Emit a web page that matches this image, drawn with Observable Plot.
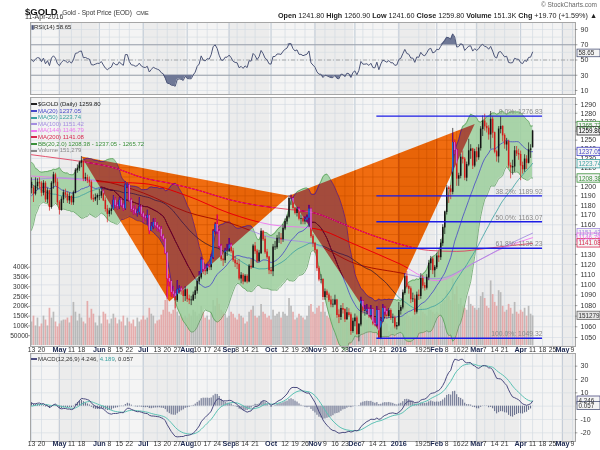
<!DOCTYPE html>
<html><head><meta charset="utf-8">
<script src="https://cdn.jsdelivr.net/npm/d3@7"></script>
<script src="https://cdn.jsdelivr.net/npm/@observablehq/plot@0.6"></script>
<style>
html,body{margin:0;padding:0;background:#fff;}
#root{position:relative;width:600px;height:450px;overflow:hidden;font-family:"Liberation Sans",Arial,sans-serif;color:#222;}
#root svg{position:absolute;left:0;}
.t{position:absolute;white-space:nowrap;line-height:1;}
.sw{display:inline-block;width:6px;height:2px;vertical-align:middle;margin-right:1px;}
</style></head><body><div id="root"></div><script>
// ---------- DATA ----------
const warmupCloses = [1260,1279,1275,1260,1263,1263,1234,1240,1234,1220,1222,1227,1208,1211,1209,1203,1197,1200,1211,1207,1213,1208,1203,1199,1198,1165,1167,1161,1150,1152,1152,1154,1148,1169,1168,1183,1190,1192,1196,1204,1199,1185,1184,1200,1201,1219,1210,1203,1193,1207];
const opens = [1204,1198,1192,1200,1204,1203,1193,1203,1186,1195,1178,1203,1212,1204,
1183,1175,1186,1193,1191,1185,1189,1183,1193,1217,1219,1225,1227,1208,1209,1206,1204,1187,1186,1188,
1190,1190,1194,1185,1176,1171,1174,1176,1185,1180,1179,1185,1180,1177,1201,1201,1185,1176,1175,1172,1173,1178,
1171,1168,1167,1169,1154,1158,1162,1159,1157,1155,1148,1145,1131,1106,1103,1093,1091,1085,1095,1096,1094,1089,
1095,1086,1085,1085,1090,1094,1103,1107,1124,1115,1113,1118,1117,1127,1153,1160,1153,1138,1125,1124,1133,
1133,1139,1133,1124,1121,1120,1106,1109,1103,1108,1103,1118,1117,1138,1133,1123,1131,1153,1145,1132,1127,
1114,1113,1137,1137,1146,1146,1145,1156,1163,1168,1187,1187,1177,1172,1176,1166,1166,1163,1165,1167,1176,1148,
1141,1134,1116,1105,1105,1088,1093,1090,1085,1081,1081,1085,1071,1069,1077,1076,1067,1073,1071,1056,
1065,1068,1053,1062,1084,1075,1075,1076,1071,1076,1063,1062,1075,1049,1065,1077,1074,1070,1075,1068,1068,1060,
1061,1075,1078,1092,1108,1098,1096,1086,1086,1074,1090,1089,1106,1099,1097,1107,1121,1125,1114,
1117,1128,1127,1141,1157,1173,1198,1197,1194,1247,1239,1208,1211,1231,1229,1209,1223,1238,1240,1222,
1237,1231,1241,1262,1271,1265,1263,1256,1273,1258,1237,1232,1262,1265,1255,1245,1248,1222,1220,1221,1238,1235,
1234,1222,1218,1229,1225,1239,1241.8];
const highs = [1209,1201,1209,1208,1209,1205,1206,1205,1198,1196,1205,1215,1214,1208,
1185,1189,1196,1197,1194,1193,1190,1195,1219,1223,1227,1232,1228,1214,1212,1210,1206,1191,1192,1192,
1197,1198,1196,1188,1180,1177,1180,1190,1188,1183,1188,1187,1182,1205,1204,1203,1187,1179,1180,1176,1188,1180,
1173,1170,1175,1170,1162,1166,1166,1162,1159,1158,1150,1146,1132,1110,1104,1098,1094,1104,1099,1098,1096,1098,
1096,1090,1089,1093,1098,1106,1113,1127,1125,1118,1120,1120,1130,1155,1162,1170,1155,1140,1130,1136,1140,
1146,1141,1136,1128,1124,1125,1112,1111,1110,1110,1120,1125,1140,1142,1135,1134,1156,1154,1148,1135,1128,
1117,1140,1143,1149,1152,1151,1160,1166,1170,1190,1191,1188,1178,1178,1178,1170,1168,1168,1170,1180,1177,1150,
1142,1135,1118,1110,1106,1096,1095,1092,1089,1086,1090,1086,1076,1080,1082,1077,1078,1077,1073,1068,
1072,1070,1063,1088,1085,1080,1081,1078,1080,1077,1068,1079,1076,1068,1081,1079,1076,1077,1077,1072,1070,1064,
1083,1080,1095,1111,1113,1100,1098,1092,1090,1093,1095,1111,1109,1102,1110,1124,1128,1127,1119,
1131,1132,1145,1160,1174,1201,1200,1201,1263,1250,1240,1214,1234,1238,1231,1226,1251,1245,1241,1240,
1242,1245,1265,1277,1279,1269,1266,1282,1276,1259,1239,1265,1276,1266,1257,1252,1250,1225,1228,1243,1243,1240,
1238,1226,1234,1233,1247,1245,1260.9];
const lows = [1192,1183,1190,1196,1197,1189,1190,1183,1182,1174,1176,1197,1200,1180,
1170,1174,1182,1187,1182,1181,1180,1180,1192,1214,1216,1220,1205,1205,1203,1200,1185,1183,1184,1180,
1185,1187,1184,1173,1162,1168,1170,1175,1177,1175,1176,1178,1174,1175,1198,1183,1173,1170,1170,1168,1170,1168,
1162,1164,1160,1150,1153,1155,1156,1153,1152,1145,1142,1130,1086,1098,1088,1087,1077,1083,1091,1090,1083,1084,
1083,1081,1080,1084,1086,1091,1100,1105,1110,1109,1110,1114,1114,1125,1150,1150,1136,1123,1118,1121,1128,
1132,1131,1122,1117,1115,1104,1101,1100,1102,1101,1102,1115,1116,1130,1121,1122,1130,1143,1130,1125,1110,
1110,1108,1134,1135,1141,1140,1142,1154,1160,1166,1180,1175,1170,1168,1164,1160,1160,1160,1162,1157,1146,1137,
1131,1113,1103,1101,1085,1085,1087,1083,1078,1078,1080,1068,1063,1066,1072,1064,1066,1069,1052,1054,
1060,1052,1046,1060,1072,1070,1071,1068,1069,1061,1060,1060,1049,1048,1064,1071,1067,1068,1066,1063,1058,1057,
1060,1071,1076,1090,1096,1091,1082,1083,1071,1072,1085,1086,1096,1094,1095,1104,1114,1110,1107,
1115,1122,1124,1138,1150,1170,1182,1186,1191,1234,1200,1200,1208,1224,1206,1205,1221,1229,1218,1220,
1226,1228,1238,1254,1260,1258,1250,1240,1252,1235,1226,1225,1257,1248,1240,1238,1219,1208,1212,1215,1232,1228,
1206,1213,1215,1218,1224,1230,1241.6];
const closes = [1198,1192,1200,1204,1203,1193,1203,1186,1195,1178,1203,1212,1204,1183,
1175,1186,1193,1191,1185,1189,1183,1193,1217,1219,1225,1227,1208,1209,1206,1204,1187,1186,1188,1190,
1190,1194,1185,1176,1171,1174,1176,1185,1180,1179,1185,1180,1177,1201,1201,1185,1176,1175,1172,1173,1178,1171,
1168,1167,1169,1154,1158,1162,1159,1157,1155,1148,1145,1131,1106,1103,1093,1091,1085,1095,1096,1094,1089,1095,
1086,1085,1085,1090,1094,1103,1107,1124,1115,1113,1118,1117,1127,1153,1160,1153,1138,1125,1124,1133,1133,
1139,1133,1124,1121,1120,1106,1109,1103,1108,1103,1118,1117,1138,1133,1123,1131,1153,1145,1132,1127,1114,
1113,1137,1137,1146,1146,1145,1156,1163,1168,1187,1187,1177,1172,1176,1166,1166,1163,1165,1167,1176,1148,1141,
1134,1116,1105,1105,1088,1093,1090,1085,1081,1081,1085,1071,1069,1077,1076,1067,1073,1071,1056,1065,
1068,1053,1062,1084,1075,1075,1076,1071,1076,1063,1062,1075,1049,1065,1077,1074,1070,1075,1068,1068,1060,1061,
1075,1078,1092,1108,1098,1096,1086,1086,1074,1090,1089,1106,1099,1097,1107,1121,1125,1114,1117,
1128,1127,1141,1157,1173,1198,1197,1194,1247,1239,1208,1211,1231,1229,1209,1223,1238,1240,1222,1237,
1231,1241,1262,1271,1265,1263,1256,1273,1258,1237,1232,1262,1265,1255,1245,1248,1222,1220,1221,1238,1235,1234,
1222,1218,1229,1225,1239,1240,1259.8];
// volume in thousands
const volumes = [120,150,100,140,95,110,150,130,100,190,140,170,120,95,
110,125,130,130,140,115,150,220,170,125,160,140,120,110,225,140,185,160,115,100,
150,110,170,160,130,110,135,160,140,110,130,120,150,100,140,120,110,130,95,140,120,130,
150,130,140,190,160,150,110,125,130,155,180,230,300,170,160,180,220,170,150,160,140,150,
140,160,150,180,170,150,160,200,170,140,150,130,170,230,200,240,210,180,170,160,140,
150,170,160,140,130,160,150,140,110,120,170,180,200,150,140,150,210,170,160,140,150,
130,180,150,160,170,140,170,160,150,240,200,170,130,140,160,150,140,130,150,200,210,170,
160,190,200,170,220,170,150,140,160,130,140,180,190,160,150,140,130,120,170,140,
140,180,200,230,160,140,130,150,140,160,130,200,230,170,150,120,110,70,90,100,120,90,
170,150,190,220,180,150,140,150,170,180,150,200,170,160,150,190,180,170,160,
170,160,210,240,230,280,250,230,340,260,300,210,240,200,190,180,250,210,200,190,
180,190,250,270,240,200,190,330,260,220,200,280,270,200,170,180,210,190,160,220,170,160,
180,170,190,150,200,160,151.279];
// long moving averages (date, value)
const ma100Pts = [["2015-04-13",1207],["2015-05-01",1209],["2015-06-01",1206],["2015-07-01",1193],["2015-08-03",1173],["2015-09-01",1162],["2015-10-01",1147],["2015-11-02",1140],["2015-12-01",1121],["2016-01-04",1112],["2016-02-01",1106],["2016-03-01",1123],["2016-03-21",1138],["2016-04-11",1151.42]];
const ma144Pts = [["2015-04-13",1211],["2015-05-01",1209],["2015-06-01",1205],["2015-07-01",1203],["2015-08-03",1190],["2015-09-01",1172],["2015-10-01",1160],["2015-11-02",1156],["2015-12-01",1140],["2016-01-04",1121],["2016-02-01",1104],["2016-03-01",1123],["2016-03-21",1137],["2016-04-11",1146.79]];
const ma200Pts = [["2015-04-13",1234],["2015-05-01",1230],["2015-05-20",1226],["2015-06-10",1220],["2015-07-01",1209],["2015-07-22",1203],["2015-08-12",1195],["2015-09-01",1186],["2015-09-22",1180],["2015-10-13",1176],["2015-11-02",1172],["2015-11-23",1160],["2015-12-14",1149],["2016-01-05",1140],["2016-01-26",1134],["2016-02-16",1133],["2016-03-08",1136],["2016-03-28",1139],["2016-04-11",1141.08]];
// harmonic XABCD pattern annotation (drawn in XOR-like "difference" mode as on the original)
const patternX = ["2015-05-18",1232], patternA = ["2015-07-21",1084], patternB = ["2015-10-14",1190],
      patternC = ["2015-12-17",1056], patternD = ["2016-02-29",1268];
const fibPct = ["0.0%","38.2%","50.0%","61.8%","100.0%"];
const fibPrice = [1276.83,1189.92,1163.07,1136.23,1049.32];
const fibSpan = ["2015-12-16","2016-04-18"];
const holidays = ["2015-05-25","2015-07-03","2015-09-07","2015-11-26","2015-12-25","2016-01-01","2016-01-18","2016-02-15","2016-03-25","2016-05-30"];
const weekTicks = [["2015-04-13","13"],["2015-04-20","20"],["2015-05-11","11"],["2015-05-18","18"],["2015-06-08","8"],["2015-06-15","15"],["2015-06-22","22"],["2015-07-13","13"],["2015-07-20","20"],["2015-07-27","27"],["2015-08-10","10"],["2015-08-17","17"],["2015-08-24","24"],["2015-09-08","8"],["2015-09-14","14"],["2015-09-21","21"],["2015-10-12","12"],["2015-10-19","19"],["2015-10-26","26"],["2015-11-09","9"],["2015-11-16","16"],["2015-11-23","23"],["2015-12-07","7"],["2015-12-14","14"],["2015-12-21","21"],["2016-01-19","19"],["2016-01-25","25"],["2016-02-08","8"],["2016-02-16","16"],["2016-02-22","22"],["2016-03-07","7"],["2016-03-14","14"],["2016-03-21","21"],["2016-04-11","11"],["2016-04-18","18"],["2016-04-25","25"],["2016-05-09","9"]];
const monthTicks = [["2015-05-01","May"],["2015-06-01","Jun"],["2015-07-01","Jul"],["2015-08-03","Aug"],["2015-09-01","Sep"],["2015-10-01","Oct"],["2015-11-02","Nov"],["2015-12-01","Dec"],["2016-01-04","2016"],["2016-02-01","Feb"],["2016-03-01","Mar"],["2016-04-01","Apr"],["2016-05-02","May"]];
const priceTicks = d3.range(1050, 1291, 10);
const rsiTicks = [10,30,50,70,90];
const macdTicks = [-20,-10,10,20,30];
const volTicks = [50,100,150,200,250,300,350,400];
const volTickText = ["50000","100K","150K","200K","250K","300K","350K","400K"];
const priceTags = [[1265.72,"#3a8f3a"],[1259.80,"#222"],[1237.05,"#4646c8"],[1223.74,"#3aa0a0"],[1208.38,"#3a8f3a"],[1151.42,"#a58ee0"],[1146.79,"#e866e8"],[1141.08,"#d8284e"]];
const legendRows = [["$GOLD (Daily) 1259.80","#222","#222"],["MA(20) 1237.05","#4646c8","#4646c8"],["MA(50) 1223.74","#3aa0a0","#3aa0a0"],["MA(100) 1151.42","#a58ee0","#a58ee0"],["MA(144) 1146.79","#ee77ee","#ee77ee"],["MA(200) 1141.08","#d8284e","#d8284e"],["BB(20,2.0) 1208.38 - 1237.05 - 1265.72","#3a8f3a","#3a8f3a"],["Volume 151,279","#888","#888"]];
const rsiLast = 58.65, volLast = 151.279, macdLast = [4.246, 4.189, 0.057];

// ---------- SETUP ----------
const FONT = '"Liberation Sans", Arial, sans-serif';
const BAND_A = "#f4f4f4", BAND_B = "#ececec";
const days = [];
{ const hs = new Set(holidays); const d = new Date(Date.UTC(2015,3,13));
  while (days.length < 290) { const wd = d.getUTCDay(); const s = d.toISOString().slice(0,10);
    if (wd>0 && wd<6 && !hs.has(s)) days.push(s); d.setUTCDate(d.getUTCDate()+1); } }
const idx = s => days.indexOf(s);
const XMAX = 272.5, XD = [-0.5, XMAX];
const pxi = px => (px - 30) / (545 / (XMAX + 0.5)) - 0.5;
const bands = []; { let start = -0.5, m = days[0].slice(0,7), k = 0;
  for (let i=1;i<days.length;i++){ const mm = days[i].slice(0,7); if (mm!==m){ bands.push({x1:start,x2:i-0.5,fill:k%2?BAND_B:BAND_A}); start=i-0.5; m=mm; k++; if (start>XMAX) break; } }
  if (start < XMAX) bands.push({x1:start,x2:XMAX,fill:k%2?BAND_B:BAND_A}); }
bands.forEach(b=>{b.x2=Math.min(b.x2,XMAX);});
const gridX = weekTicks.concat(monthTicks).map(d=>idx(d[0]));
const monthX = monthTicks.map(d=>idx(d[0]));

// indicators
const allC = warmupCloses.concat(closes), W0 = warmupCloses.length;
const mean = a => a.reduce((s,v)=>s+v,0)/a.length;
const sdev = a => { const m=mean(a); return Math.sqrt(mean(a.map(v=>(v-m)**2))); };
const ind = closes.map((c,i)=>{ const j=W0+i; const w20=allC.slice(j-19,j+1), w50=allC.slice(j-49,j+1);
  const m=mean(w20), s=sdev(w20); return {i, ma20:m, ma50:mean(w50), hi:m+2*s, lo:m-2*s}; });
function ema(a,n){const k=2/(n+1);let e=a[0];return a.map(v=>(e=v*k+e*(1-k)));}
const e12=ema(allC,12), e26=ema(allC,26); const macdAll=e12.map((v,i)=>v-e26[i]); const sigAll=ema(macdAll,9);
const macd = closes.map((c,i)=>({i, m:macdAll[W0+i], s:sigAll[W0+i], h:macdAll[W0+i]-sigAll[W0+i]}));
function rsiCalc(a,n=14){const out=a.map(()=>null);let g=0,l=0;for(let i=1;i<=n;i++){const d=a[i]-a[i-1];g+=Math.max(d,0);l+=Math.max(-d,0);}g/=n;l/=n;out[n]=100-100/(1+g/l);
  for(let i=n+1;i<a.length;i++){const d=a[i]-a[i-1];g=(g*(n-1)+Math.max(d,0))/n;l=(l*(n-1)+Math.max(-d,0))/n;out[i]=100-100/(1+g/l);}return out;}
const rsiAll = rsiCalc(allC); const rsi = closes.map((c,i)=>({i, r:rsiAll[W0+i]}));
const candles = closes.map((c,i)=>({i,o:opens[i],h:highs[i],l:lows[i],c,col:(i>0&&c<closes[i-1])?"#d41a1a":"#141414"}));
const pattern = [[patternX,patternA,patternB],[patternB,patternC,patternD]].flatMap((t,k)=>t.map(p=>({k,x:idx(p[0]),y:p[1]})));

// price panel: log scale, frame 249px tall; volume shares the panel with its own linear axis
const PLO = 1041.7, PHI = 1298, PH = 249;
const volPx = v => 248 - 0.19575 * v;
const pxToPrice = px => PHI * Math.exp(-px / PH * Math.log(PHI / PLO));
const volY = v => pxToPrice(volPx(v));
const vols = volumes.map((v,i)=>({i,v,col:(i>0&&closes[i]<closes[i-1])?"#e3a0a0":"#b0b0b0"}));

const root = document.getElementById("root");
function place(el, top){ el.style.position="absolute"; el.style.top=top+"px"; el.style.left="0px"; root.appendChild(el); return el; }
const base = (h, mb=0) => ({width:600, height:h, marginLeft:30, marginRight:25, marginTop:0, marginBottom:mb,
  style:{background:"transparent", overflow:"visible", fontFamily:FONT}, color:{type:"identity"}, x:{domain:XD, axis:null}});
const bgMarks = () => [
  Plot.rect(bands,{x1:"x1",x2:"x2",fill:"fill"}),
  Plot.ruleX(gridX,{x:d=>d,stroke:"#cfd6e0",strokeWidth:0.6}),
  Plot.ruleX(monthX,{x:d=>d,stroke:"#bcc5d2",strokeWidth:0.7})
];
const xLabels = (dy) => [
  Plot.text(weekTicks,{x:d=>idx(d[0]),text:d=>d[1],frameAnchor:"bottom",dy,fontSize:6.8,fill:"#333"}),
  Plot.text(monthTicks,{x:d=>idx(d[0]),text:d=>d[1],frameAnchor:"bottom",dy,fontSize:7.2,fontWeight:"bold",fill:"#1c2850"})
];
const rightAxis = (ticks, y) => [
  Plot.ruleY(ticks,{y:y||(d=>d),x1:()=>XMAX,x2:()=>XMAX+1.2,stroke:"#666",strokeWidth:0.6}),
  Plot.text(ticks,{y:y||(d=>d),x:()=>XMAX,text:d=>String(d),textAnchor:"start",dx:5,fontSize:7,fill:"#333"})
];
const tag = (vals, yf, half, txt, cols, opts={}) => [
  Plot.rect(vals,{x1:()=>pxi(577),x2:()=>pxi(600),y1:d=>half(yf(d),-1),y2:d=>half(yf(d),1),fill:opts.fill||"#f4f4f4",stroke:(d,i)=>cols[i],strokeWidth:0.8}),
  Plot.text(vals,{x:()=>pxi(578),y:d=>yf(d),text:(d,i)=>txt[i],textAnchor:"start",fontSize:6.3,fill:(d,i)=>opts.tc?opts.tc[i]:cols[i],fontWeight:opts.fw||"normal"})
];
const id = d=>d;

// ---------- RSI ----------
place(Plot.plot({...base(72), y:{domain:[4.75,99.2],axis:null}, marks:[
  ...bgMarks(),
  Plot.ruleY(d3.range(10,100,10),{stroke:"#d5dbe3",strokeWidth:0.6}),
  Plot.ruleY([30,70],{stroke:"#9298a4",strokeWidth:0.9}),
  Plot.ruleY([50],{stroke:"#9a9a9a",strokeWidth:0.8,strokeDasharray:"4,2,1,2"}),
  Plot.areaY(rsi,{x:"i",y1:()=>70,y2:d=>Math.max(70,d.r),fill:"#6f7896"}),
  Plot.areaY(rsi,{x:"i",y1:()=>30,y2:d=>Math.min(30,d.r),fill:"#6f7896"}),
  Plot.line(rsi,{x:"i",y:"r",stroke:"#4c5578",strokeWidth:1}),
  Plot.frame({stroke:"#a6a6a6"}),
  ...rightAxis(rsiTicks),
  ...tag([rsiLast],id,(d,s)=>d+s*5,["58.65"],["#4c5578"],{tc:["#333"]})
]}), 22);

// ---------- PRICE + VOLUME ----------
const logHalf = (d,s)=>d*Math.exp(s*0.0037);
place(Plot.plot({...base(PH+10,10), y:{type:"log",domain:[PLO,PHI],axis:null}, marks:[
  ...bgMarks(),
  Plot.ruleY(priceTicks,{stroke:"#cfd6e0",strokeWidth:0.55}),
  Plot.ruleX(vols,{x:"i",y1:()=>volY(0),y2:d=>volY(d.v),stroke:"col",strokeWidth:1.7,strokeOpacity:0.85}),
  Plot.areaY(ind,{x:"i",y1:"lo",y2:"hi",fill:"#9ccf9c",fillOpacity:0.85}),
  Plot.line(ind,{x:"i",y:"hi",stroke:"#4f9a4f",strokeWidth:0.7}),
  Plot.line(ind,{x:"i",y:"lo",stroke:"#4f9a4f",strokeWidth:0.7}),
  Plot.line(ma200Pts,{x:d=>idx(d[0]),y:d=>d[1],stroke:"#e0405e",strokeWidth:0.9,curve:"monotone-x"}),
  Plot.line(ma144Pts,{x:d=>idx(d[0]),y:d=>d[1],stroke:"#ee77ee",strokeWidth:0.9,curve:"monotone-x"}),
  Plot.line(ma100Pts,{x:d=>idx(d[0]),y:d=>d[1],stroke:"#a58ee0",strokeWidth:0.9,curve:"monotone-x"}),
  Plot.line(ind,{x:"i",y:"ma50",stroke:"#3aa0a0",strokeWidth:0.8}),
  Plot.line(ind,{x:"i",y:"ma20",stroke:"#4646c8",strokeWidth:0.8}),
  Plot.ruleX(candles,{x:"i",y1:"l",y2:"h",stroke:"col",strokeWidth:0.7}),
  Plot.ruleX(candles,{x:"i",y1:d=>Math.min(d.o,d.c)-0.3,y2:d=>Math.max(d.o,d.c)+0.3,stroke:"col",strokeWidth:1.5}),
  Plot.line(pattern,{x:"x",y:"y",z:"k",fill:"#0488e4",stroke:"none",curve:"linear-closed",mixBlendMode:"difference"}),
  Plot.ruleY(fibPrice,{y:d=>d,x1:()=>idx(fibSpan[0]),x2:()=>idx(fibSpan[1]),stroke:"#1c1ce6",strokeWidth:1.4}),
  Plot.text(fibPrice,{y:d=>d,x:()=>idx(fibSpan[1]),text:(d,i)=>fibPct[i]+": "+d.toFixed(2),textAnchor:"end",dy:-4,fontSize:6.8,fill:"#8a8a8a"}),
  Plot.frame({stroke:"#a6a6a6"}),
  ...rightAxis(priceTicks),
  Plot.text(volTicks,{y:d=>volY(d),x:()=>-0.5,text:(d,i)=>volTickText[i],textAnchor:"end",dx:-2,fontSize:6.6,fill:"#333"}),
  Plot.ruleY(volTicks,{y:d=>volY(d),x1:()=>pxi(27.5),x2:()=>-0.5,stroke:"#666",strokeWidth:0.6}),
  ...tag(priceTags.map(d=>d[0]),id,logHalf,priceTags.map(d=>d[0].toFixed(2)),priceTags.map(d=>d[1]),{tc:priceTags.map(d=>d[1]==="#222"?"#000":d[1])}),
  ...tag([volLast],volY,logHalf,["151279"],["#666"],{tc:["#333"],fill:"#e4e4e4"}),
  ...xLabels(5)
]}), 97);

// ---------- MACD ----------
place(Plot.plot({...base(97,9), y:{domain:[-26.5,39.5],axis:null}, marks:[
  ...bgMarks(),
  Plot.ruleY([-20,-10,0,10,20,30],{stroke:"#d5dbe3",strokeWidth:0.6}),
  Plot.ruleX(macd,{x:"i",y1:()=>0,y2:"h",stroke:"#4c5578",strokeWidth:0.9}),
  Plot.line(macd,{x:"i",y:"s",stroke:"#5cc2b4",strokeWidth:1}),
  Plot.line(macd,{x:"i",y:"m",stroke:"#4c4c80",strokeWidth:1}),
  Plot.frame({stroke:"#a6a6a6"}),
  ...rightAxis(macdTicks),
  ...tag([macdLast[0],macdLast[2]],id,(d,s)=>d+s*3,["4.246","0.057"],["#4c4c80","#4c5578"],{tc:["#333","#333"]}),
  ...xLabels(4.5)
]}), 353);

// ---------- TEXT ----------
function txt(html, css){ const d=document.createElement("div"); d.className="t"; d.innerHTML=html; Object.assign(d.style,css); root.appendChild(d); return d; }
txt('<b style="font-size:9.5px;color:#111">$GOLD</b> <span style="font-size:6.5px;color:#333">Gold - Spot Price (EOD)</span> <span style="font-size:5.5px;color:#333">CME</span>',{left:"25px",top:"2px"});
txt('11-Apr-2016',{left:"25px",top:"12.5px",fontSize:"7px",color:"#333"});
txt('© StockCharts.com',{right:"3px",top:"2px",fontSize:"6.5px",color:"#666"});
txt('<b>Open</b> 1241.80 <b>High</b> 1260.90 <b>Low</b> 1241.60 <b>Close</b> 1259.80 <b>Volume</b> 151.3K <b>Chg</b> +19.70 (+1.59%) ▲',{right:"3px",top:"12px",fontSize:"7.2px",color:"#222"});
txt('<span style="color:#4c5578">&#9646;</span>RSI(14) 58.65',{left:"31px",top:"24px",fontSize:"6px",color:"#222"});
txt('<span class="sw" style="background:#4c4c80"></span>MACD(12,26,9) 4.246, <span style="color:#3aa0a0">4.189</span>, 0.057',{left:"31px",top:"356px",fontSize:"6px",color:"#333"});
legendRows.forEach((r,k)=>txt('<span class="sw" style="background:'+r[2]+'"></span>'+r[0],{left:"31px",top:(101+k*6.6)+"px",fontSize:"6px",color:r[1]}));
</script></body></html>
